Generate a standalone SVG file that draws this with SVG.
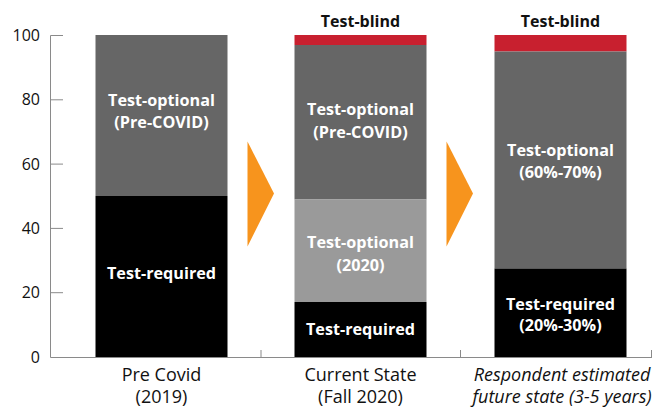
<svg xmlns="http://www.w3.org/2000/svg" width="663" height="410" viewBox="0 0 663 410">
<style>
.ax{stroke:#8a8a8a;stroke-width:1;fill:none}
.yl{font-family:"Open Sans","Noto Sans",sans-serif;font-size:16px;fill:#111;text-anchor:end}
.xl{font-family:"Open Sans","Noto Sans",sans-serif;font-size:18px;fill:#111;text-anchor:middle}
.it{font-style:italic}
.in{font-family:"Open Sans","Noto Sans",sans-serif;font-size:16.2px;font-weight:bold;fill:#fff;text-anchor:middle}
.tb{font-family:"Open Sans","Noto Sans",sans-serif;font-size:16px;font-weight:bold;fill:#111;text-anchor:middle}
.red{fill:#c8202f}.dg{fill:#666666}.lg{fill:#9a9a9a}.bk{fill:#000}
.arr{fill:#f7941d}
</style>
<g id="axes">
<path class="ax" d="M50.5 35.5V357.5H652"/>
<path class="ax" d="M50.5 35.5H63M50.5 99.8H63M50.5 164.1H63M50.5 228.4H63M50.5 292.7H63M261 357.5V350M460.5 357.5V350M651.5 357.5V350"/>
<text class="yl" x="40" y="41">100</text>
<text class="yl" x="40" y="105">80</text>
<text class="yl" x="40" y="170">60</text>
<text class="yl" x="40" y="234">40</text>
<text class="yl" x="40" y="298">20</text>
<text class="yl" x="40" y="363">0</text>
</g>
<g id="bar-precovid">
<rect class="dg" x="95.5" y="35" width="132" height="161"/>
<rect class="bk" x="95.5" y="196" width="132" height="161"/>
<text class="in" x="161.5" y="106">Test-optional</text>
<text class="in" x="161.5" y="128">(Pre-COVID)</text>
<text class="in" x="161.5" y="279">Test-required</text>
<text class="xl" x="161.5" y="381">Pre Covid</text>
<text class="xl" x="161.5" y="403">(2019)</text>
</g>
<g id="bar-current">
<rect class="red" x="294.5" y="35" width="132" height="10"/>
<rect class="dg" x="294.5" y="45" width="132" height="154.5"/>
<rect class="lg" x="294.5" y="199.5" width="132" height="102.5"/>
<rect class="bk" x="294.5" y="302" width="132" height="55"/>
<text class="tb" x="360.5" y="27">Test-blind</text>
<text class="in" x="360.5" y="115">Test-optional</text>
<text class="in" x="360.5" y="138">(Pre-COVID)</text>
<text class="in" x="360.5" y="248">Test-optional</text>
<text class="in" x="360.5" y="271">(2020)</text>
<text class="in" x="360.5" y="335">Test-required</text>
<text class="xl" x="360.5" y="381">Current State</text>
<text class="xl" x="360.5" y="403">(Fall 2020)</text>
</g>
<g id="bar-future">
<rect class="red" x="494.5" y="35" width="132" height="16.5"/>
<rect class="dg" x="494.5" y="51.5" width="132" height="217"/>
<rect class="bk" x="494.5" y="268.5" width="132" height="88.5"/>
<text class="tb" x="560.5" y="27">Test-blind</text>
<text class="in" x="560.5" y="156">Test-optional</text>
<text class="in" x="560.5" y="178">(60%-70%)</text>
<text class="in" x="560.5" y="310">Test-required</text>
<text class="in" x="560.5" y="331">(20%-30%)</text>
<text class="xl it" x="562" y="381">Respondent estimated</text>
<text class="xl it" x="562" y="403">future state (3-5 years)</text>
</g>
<g id="connectors">
<polygon class="arr" points="247.5,141.5 274,193.5 247.5,246.5"/>
<polygon class="arr" points="446.5,141.5 473,193.5 446.5,246.5"/>
</g>
</svg>
